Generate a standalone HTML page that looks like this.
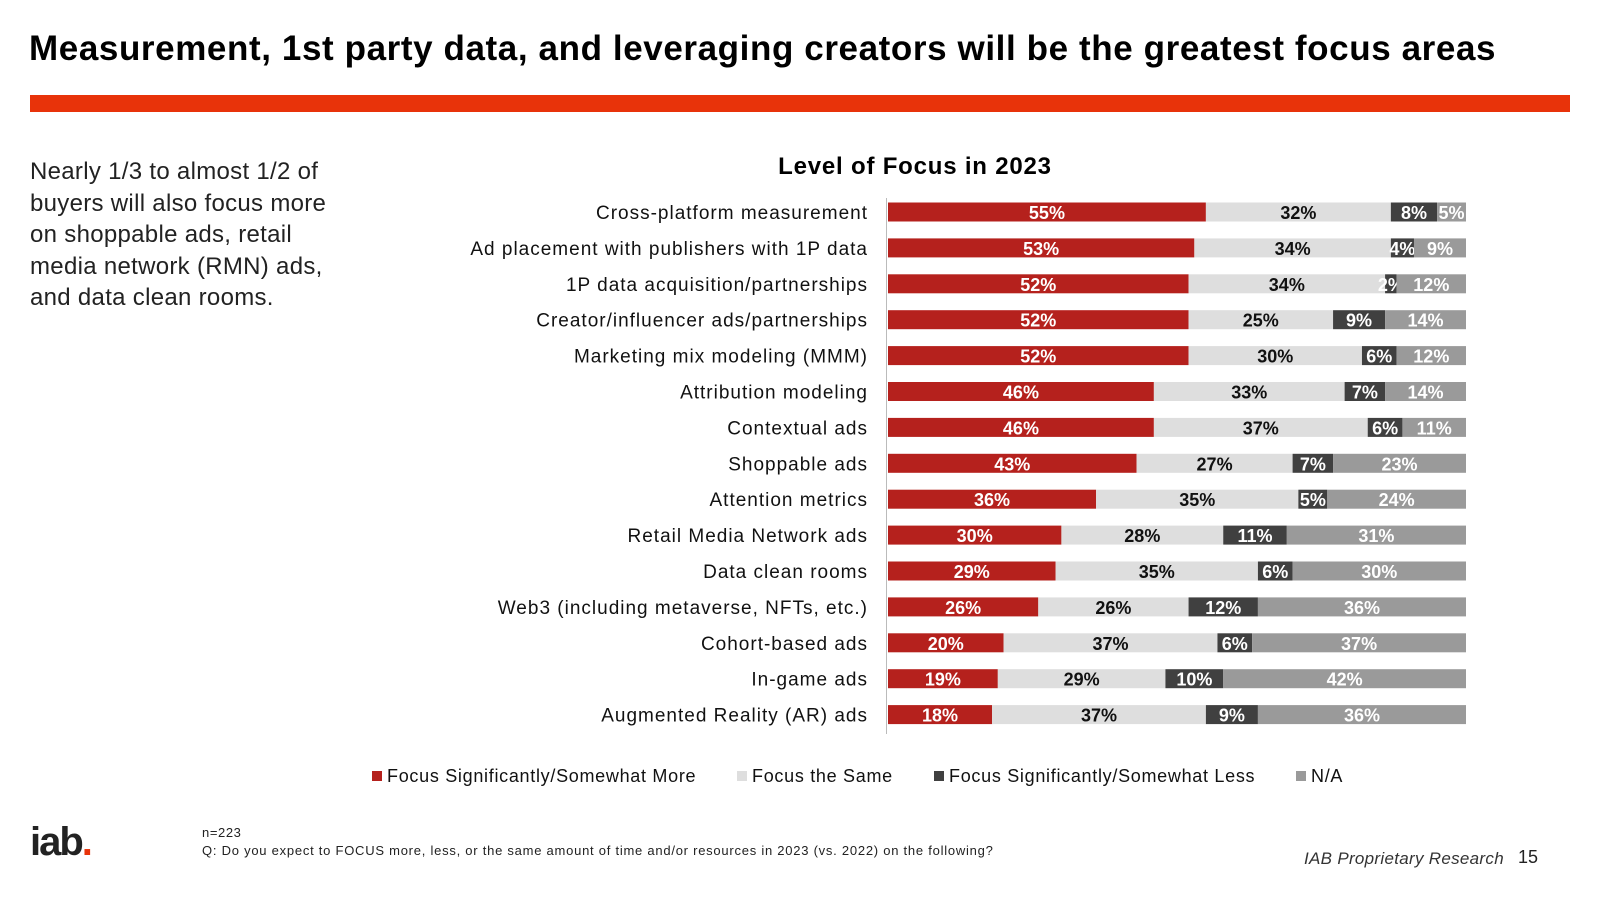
<!DOCTYPE html>
<html><head><meta charset="utf-8"><style>
body{margin:0;width:1600px;height:900px;background:#fff;font-family:"Liberation Sans",sans-serif;position:relative;overflow:hidden}
.abs{position:absolute}
</style></head><body>
<div class="abs" style="left:29px;top:29px;font-size:35px;font-weight:bold;color:#000;white-space:nowrap;letter-spacing:0.6px">Measurement, 1st party data, and leveraging creators will be the greatest focus areas</div>
<div class="abs" style="left:30px;top:95px;width:1540px;height:17px;background:#e8330a"></div>
<div class="abs" style="left:30px;top:156px;width:325px;font-size:24px;line-height:31.5px;color:#222;letter-spacing:0.3px">Nearly 1/3 to almost 1/2 of buyers will also focus more on shoppable ads, retail media network (RMN) ads, and data clean rooms.</div>
<svg class="abs" style="left:0;top:0" width="1600" height="900" id="chart">
<text x="915" y="174" text-anchor="middle" font-size="24" font-weight="bold" fill="#000" letter-spacing="0.8">Level of Focus in 2023</text>
<line x1="886.5" y1="198" x2="886.5" y2="734" stroke="#bbb"/>
<g id="bars"></g>
<g id="legend"></g>
</svg>
<div class="abs" style="left:30px;top:820px;font-size:40px;font-weight:bold;color:#222;letter-spacing:-2px">iab<span style="color:#e8330a">.</span></div>
<div class="abs" style="left:202px;top:825px;font-size:13px;color:#222;letter-spacing:0.6px">n=223</div>
<div class="abs" style="left:202px;top:843px;font-size:13px;color:#222;letter-spacing:0.75px">Q: Do you expect to FOCUS more, less, or the same amount of time and/or resources in 2023 (vs. 2022) on the following?</div>
<div class="abs" style="left:1304px;top:849px;font-size:17px;font-style:italic;color:#333;letter-spacing:0.3px">IAB Proprietary Research</div>
<div class="abs" style="left:1518px;top:847px;font-size:18px;color:#222">15</div>
<script>
const categories=["Cross-platform measurement","Ad placement with publishers with 1P data","1P data acquisition/partnerships","Creator/influencer ads/partnerships","Marketing mix modeling (MMM)","Attribution modeling","Contextual ads","Shoppable ads","Attention metrics","Retail Media Network ads","Data clean rooms","Web3 (including metaverse, NFTs, etc.)","Cohort-based ads","In-game ads","Augmented Reality (AR) ads"];
const more=[55,53,52,52,52,46,46,43,36,30,29,26,20,19,18];
const same=[32,34,34,25,30,33,37,27,35,28,35,26,37,29,37];
const less=[8,4,2,9,6,7,6,7,5,11,6,12,6,10,9];
const na=[5,9,12,14,12,14,11,23,24,31,30,36,37,42,36];
const seriesNames=["Focus Significantly/Somewhat More","Focus the Same","Focus Significantly/Somewhat Less","N/A"];
const colors=["#b5211d","#dedede","#404040","#9a9a9a"];
const textColors=["#fff","#111","#fff","#fff"];
const x0=888,x1=1466,yTop=212,step=35.9,bh=19;
const ns="http://www.w3.org/2000/svg";
const g=document.getElementById("bars");
function yPos(i){return yTop+i*step;}
function mk(t,a){const e=document.createElementNS(ns,t);for(const k in a)e.setAttribute(k,a[k]);return e;}
const series=[more,same,less,na];
categories.forEach((c,i)=>{
  const y=yPos(i);
  const lab=mk("text",{x:868,y:y+7,"text-anchor":"end","font-size":19,fill:"#111","letter-spacing":"1"});
  lab.textContent=c;
  
  
  g.appendChild(lab);
  const tot=series.reduce((s,a)=>s+a[i],0);
  let cx=x0;
  series.forEach((arr,k)=>{
    const w=arr[i]/tot*(x1-x0);
    const r=mk("rect",{x:cx,y:y-bh/2,width:w,height:bh,fill:colors[k]});
    
    
    g.appendChild(r);
    const t=mk("text",{x:cx+w/2,y:y+7,"text-anchor":"middle","font-size":18,"font-weight":"bold",fill:textColors[k]});
    t.textContent=arr[i]+"%";
    
    
    g.appendChild(t);
    cx+=w;
  });
});
const lg=document.getElementById("legend");
const lx=[372,737,934,1296];
seriesNames.forEach((n,k)=>{
  const r=mk("rect",{x:lx[k],y:771,width:10,height:10,fill:colors[k]});
  
  
  lg.appendChild(r);
  const t=mk("text",{x:lx[k]+15,y:782,"font-size":18,fill:"#111","letter-spacing":"0.7"});
  t.textContent=n;
  
  
  lg.appendChild(t);
});
</script>
</body></html>
